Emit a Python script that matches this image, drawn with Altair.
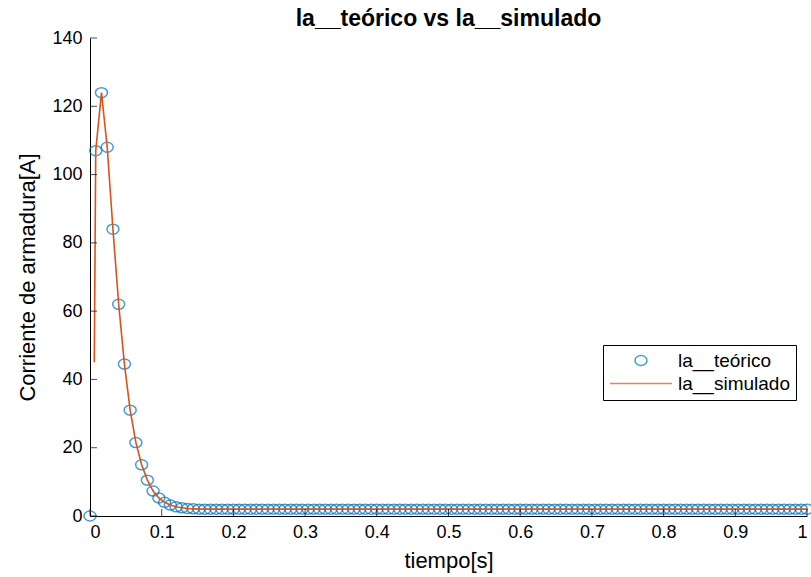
import altair as alt
import pandas as pd

# ---- data ----
t_step = 0.008
teo_vals = [0.0, 107.0, 124.0, 108.0, 84.0, 62.0, 44.5, 31.0, 21.5, 15.0,
            10.5, 7.3, 5.3, 4.0, 3.2, 2.7, 2.4, 2.2, 2.1,
            2.0, 2.0, 2.0, 2.0, 2.0, 2.0, 2.0, 2.0, 2.0, 2.0,
            2.0, 2.0, 2.0, 2.0, 2.0, 2.0, 2.0, 2.0, 2.0, 2.0,
            2.0, 2.0, 2.0, 2.0, 2.0, 2.0, 2.0, 2.0, 2.0, 2.0,
            2.0, 2.0, 2.0, 2.0, 2.0, 2.0, 2.0, 2.0, 2.0, 2.0,
            2.0, 2.0, 2.0, 2.0, 2.0, 2.0, 2.0, 2.0, 2.0, 2.0,
            2.0, 2.0, 2.0, 2.0, 2.0, 2.0, 2.0, 2.0, 2.0, 2.0,
            2.0, 2.0, 2.0, 2.0, 2.0, 2.0, 2.0, 2.0, 2.0, 2.0,
            2.0, 2.0, 2.0, 2.0, 2.0, 2.0, 2.0, 2.0, 2.0, 2.0,
            2.0, 2.0, 2.0, 2.0, 2.0, 2.0, 2.0, 2.0, 2.0, 2.0,
            2.0, 2.0, 2.0, 2.0, 2.0, 2.0, 2.0, 2.0, 2.0, 2.0,
            2.0, 2.0, 2.0, 2.0, 2.0, 2.0, 2.0]
teo_t = [round(i * t_step, 3) for i in range(len(teo_vals))]

sim_t = [0.006] + teo_t[1:]
sim_vals = [45.0] + teo_vals[1:]

series_names = ["la__teórico", "la__simulado"]
series_colors = ["#0072BD", "#D95319"]

x_ticks = [0, 0.1, 0.2, 0.3, 0.4, 0.5, 0.6, 0.7, 0.8, 0.9, 1.0]
y_ticks = [0, 20, 40, 60, 80, 100, 120, 140]

# ---- tables ----
df_teo = pd.DataFrame({"t": teo_t, "i": teo_vals, "serie": series_names[0]})
df_sim = pd.DataFrame({"t": sim_t, "i": sim_vals, "serie": series_names[1]})
df_xt = pd.DataFrame({"t": x_ticks})
df_yt = pd.DataFrame({"i": y_ticks})

FONT = "Liberation Sans"
W, H = 717, 478
SYM = 240.25  # symbol area -> sqrt = 15.5 px

xscale = alt.Scale(domain=[0, 1], nice=False, zero=False)
yscale = alt.Scale(domain=[0, 140], nice=False)

ellipse = "M-0.774,0A0.774,0.645 0 1,1 0.774,0A0.774,0.645 0 1,1 -0.774,0Z"
dash = "M-4,0H4"

legend_opts = dict(
    title=None, orient="none", legendX=513, legendY=307,
    strokeColor="black", fillColor="white", padding=6,
    labelFont=FONT, labelFontSize=19, labelColor="black",
    symbolSize=SYM, symbolStrokeWidth=1.5, symbolOffset=22.5, labelOffset=27.5,
    rowPadding=3, cornerRadius=0,
)

color_enc = alt.Color(
    "serie:N",
    scale=alt.Scale(domain=series_names, range=series_colors),
    legend=alt.Legend(**legend_opts),
)
shape_enc = alt.Shape(
    "serie:N",
    scale=alt.Scale(domain=series_names, range=[ellipse, dash]),
    legend=alt.Legend(**legend_opts),
)

x_axis = alt.Axis(values=x_ticks, format=".1~f", title="tiempo[s]", labelPadding=7, titlePadding=9)
y_axis = alt.Axis(values=y_ticks, format="d", title="Corriente de armadura[A]", labelPadding=8, titlePadding=12)

points = alt.Chart(df_teo).mark_point(filled=False, size=SYM, strokeWidth=1.5).encode(
    x=alt.X("t:Q", scale=xscale, axis=x_axis),
    y=alt.Y("i:Q", scale=yscale, axis=y_axis),
    color=color_enc,
    shape=shape_enc,
)

line = alt.Chart(df_sim).mark_line(strokeWidth=1.6).encode(
    x=alt.X("t:Q", scale=xscale, axis=x_axis),
    y=alt.Y("i:Q", scale=yscale, axis=y_axis),
    color=color_enc,
)

xticks_layer = alt.Chart(df_xt).mark_tick(orient="vertical", size=7, thickness=1, color="black").encode(
    x=alt.X("t:Q", scale=xscale, axis=x_axis),
    y=alt.value(H - 3.5),
)
yticks_layer = alt.Chart(df_yt).mark_tick(orient="horizontal", size=7, thickness=1, color="black").encode(
    y=alt.Y("i:Q", scale=yscale, axis=y_axis),
    x=alt.value(3.5),
)

chart = alt.layer(points, line, xticks_layer, yticks_layer).properties(
    width=W,
    height=H,
    title=alt.TitleParams(
        "la__teórico vs la__simulado", font=FONT, fontSize=23, fontWeight="bold",
        color="black", anchor="middle", offset=-2,
    ),
    autosize=alt.AutoSizeParams(type="none"),
    padding={"left": 90, "top": 38, "right": 4, "bottom": 61},
    background="white",
).configure_view(stroke=None).configure_axis(
    domainColor="black", domainWidth=1, ticks=False, grid=False,
    labelColor="black", titleColor="black", labelFont=FONT, titleFont=FONT,
    labelFontSize=18, titleFontSize=22, titleFontWeight="normal",
)

chart.save("out.html", embed_options={"renderer": "svg", "actions": False})
